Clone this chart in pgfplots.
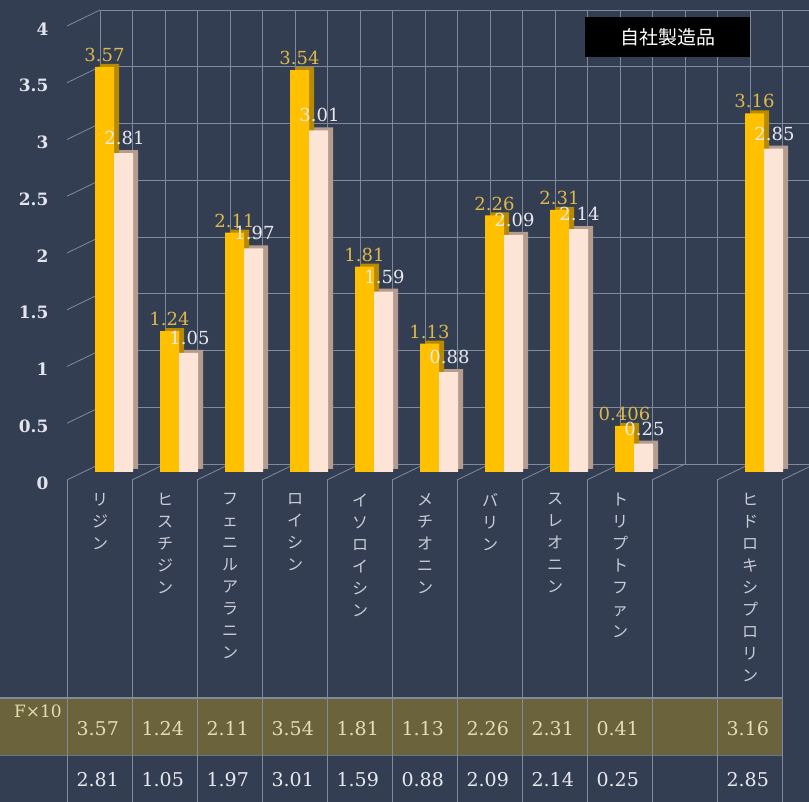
\documentclass[border=0pt]{standalone}
\usepackage{fontspec}
\usepackage{pgfplots}
\usepackage{pgfplotstable}
\pgfplotsset{compat=1.18}
\setmainfont{DejaVu Serif}
\newfontfamily\jp{Noto Sans CJK JP}
\newfontfamily\tickfont{DejaVu Serif}
\pgfkeys{/pgf/number format/assume math mode=true}
\definecolor{bg}{HTML}{343E53}
\definecolor{gridc}{HTML}{808A9D}
\definecolor{goldf}{HTML}{FFC000}
\definecolor{golddk}{HTML}{B88A00}
\definecolor{creamf}{HTML}{FCE4D6}
\definecolor{creamdk}{HTML}{B59C8E}
\definecolor{band}{HTML}{6B633C}
\definecolor{goldlbl}{HTML}{DDB94A}
\definecolor{lblc}{HTML}{C8CCD6}
\definecolor{tickc}{HTML}{E2E5EC}
\definecolor{rowa}{HTML}{E6DCB2}
\definecolor{rowb}{HTML}{E8E9EE}

\pgfplotstableread{
i a b
1 3.57 2.81
2 1.24 1.05
3 2.11 1.97
4 3.54 3.01
5 1.81 1.59
6 1.13 0.88
7 2.26 2.09
8 2.31 2.14
9 0.406 0.25
11 3.16 2.85
}\data

\begin{document}
\begin{tikzpicture}[x=1pt,y=1pt]
\useasboundingbox (0,0) rectangle (809,802);
\fill[bg] (0,0) rectangle (809,802);
% table band
\fill[band] (0,47) rectangle (782,104);
\draw[gridc, line width=1.5pt] (0,104) -- (782,104);
\draw[gridc!70!bg, line width=0.8pt] (0,47) -- (782,47);
% table vertical lines
\foreach \k in {0,...,11}{
  \draw[gridc, line width=0.9pt] (67+65*\k,322) -- (67+65*\k,0);
}
% back wall
\begin{axis}[
  at={(100pt,338pt)}, anchor=south west,
  scale only axis, width=715pt, height=454pt,
  xmin=0, xmax=22, ymin=0, ymax=4,
  xtick={0,...,22}, xticklabels={},
  ytick={0,0.5,...,4},
  major tick length=0pt,
  axis line style={draw=none},
  grid=major,
  major grid style={gridc, line width=0.8pt},
  yticklabel style={font=\tickfont\bfseries\fontsize{17}{17}\selectfont, text=tickc, anchor=east, xshift=-48pt, yshift=-19pt},
  clip=false,
]
\pgfplotsinvokeforeach{0,0.5,1,1.5,2,2.5,3,3.5,4}{
  \draw[gridc, line width=0.8pt] (axis cs:0,#1) -- ++(-33pt,-16pt);
}
\pgfplotsinvokeforeach{2,4,6,8,10,12,14,16,18,20,22}{
  \draw[gridc, line width=0.8pt] (axis cs:#1,0) -- ++(-33pt,-16pt);
}
\end{axis}
% bars
\begin{axis}[
  at={(81.5pt,330pt)}, anchor=south west,
  scale only axis, width=715pt, height=454pt,
  xmin=0.5, xmax=11.5, ymin=0, ymax=4,
  xtick={1,...,11},
  xticklabels={リ\\ジ\\ン, ヒ\\ス\\チ\\ジ\\ン, フ\\ェ\\ニ\\ル\\ア\\ラ\\ニ\\ン, ロ\\イ\\シ\\ン, イ\\ソ\\ロ\\イ\\シ\\ン, メ\\チ\\オ\\ニ\\ン, バ\\リ\\ン, ス\\レ\\オ\\ニ\\ン, ト\\リ\\プ\\ト\\フ\\ァ\\ン, {}, ヒ\\ド\\ロ\\キ\\シ\\プ\\ロ\\リ\\ン},
  xticklabel style={font=\jp\fontsize{16}{22}\selectfont, text=lblc, align=center, anchor=north, xshift=-14pt, yshift=-18pt},
  ytick=\empty,
  major tick length=0pt,
  axis line style={draw=none},
  clip=false,
]
\addplot[ybar, bar width=19pt, bar shift=-4.5pt, yshift=3pt, fill=golddk, draw=none] table[x=i,y=a]{\data};
\addplot[ybar, bar width=19pt, bar shift=-9.5pt, fill=goldf, draw=none,
  nodes near coords={\pgfmathprintnumber[precision=3]{\pgfplotspointmeta}},
  every node near coord/.append style={font=\fontsize{18}{18}\selectfont, text=goldlbl, inner sep=1pt, xshift=-9.5pt, yshift=4pt}]
  table[x=i,y=a]{\data};
\addplot[ybar, bar width=19pt, bar shift=14.5pt, yshift=3pt, fill=creamdk, draw=none] table[x=i,y=b]{\data};
\addplot[ybar, bar width=19pt, bar shift=9.5pt, fill=creamf, draw=none,
  nodes near coords={\pgfmathprintnumber[precision=2]{\pgfplotspointmeta}},
  every node near coord/.append style={font=\fontsize{18}{18}\selectfont, text=rowb, inner sep=1pt, xshift=10.5pt, yshift=7pt}]
  table[x=i,y=b]{\data};
% table values
\addplot[draw=none, mark=none, point meta=explicit,
  nodes near coords={\pgfmathprintnumber[fixed,fixed zerofill,precision=2]{\pgfplotspointmeta}},
  nodes near coords align={center},
  every node near coord/.append style={font=\fontsize{19}{19}\selectfont, text=rowa, anchor=center}]
  table[x expr=\thisrow{i}-0.25, y expr=-2.26, meta=a]{\data};
\addplot[draw=none, mark=none, point meta=explicit,
  nodes near coords={\pgfmathprintnumber[fixed,fixed zerofill,precision=2]{\pgfplotspointmeta}},
  nodes near coords align={center},
  every node near coord/.append style={font=\fontsize{19}{19}\selectfont, text=rowb, anchor=center}]
  table[x expr=\thisrow{i}-0.25, y expr=-2.71, meta=b]{\data};
\end{axis}
% row label
\node[anchor=north east, text=rowa, font=\fontsize{17}{17}\selectfont, inner sep=0pt] at (62,97) {F×10};
% legend box
\fill[black] (585,745) rectangle (750,785);
\node[text=white, font=\jp\fontsize{19}{19}\selectfont] at (667.5,765) {自社製造品};
\end{tikzpicture}
\end{document}
